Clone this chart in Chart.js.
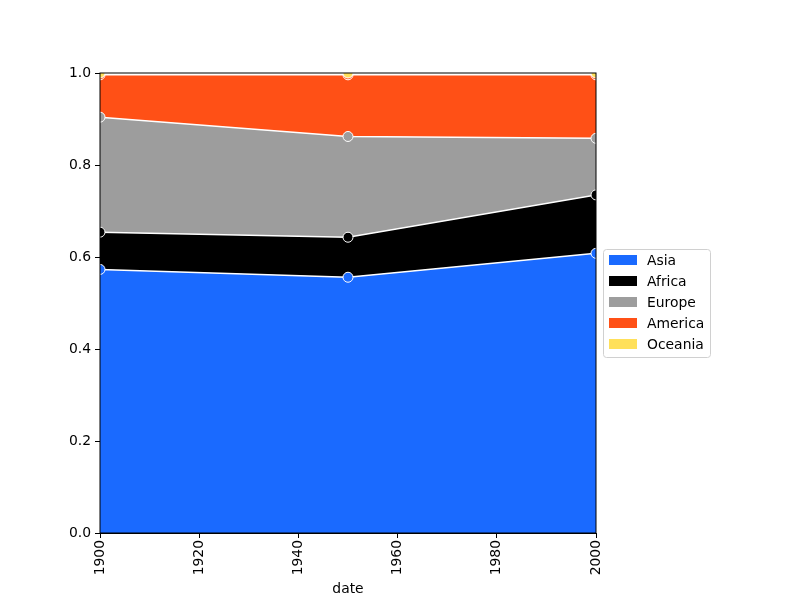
<!DOCTYPE html>
<html>
<head>
<meta charset="utf-8">
<script src="https://cdn.jsdelivr.net/npm/chart.js@4"></script>
<style>
  html, body { margin: 0; padding: 0; background: #fff; }
  #wrap { width: 800px; height: 600px; }
</style>
</head>
<body>
<div id="wrap"><canvas id="areaChart" width="800" height="600"></canvas></div>
<script>
// ================= Data =================
const years = [1900, 1950, 2000];
const regions = ["Asia", "Africa", "Europe", "America", "Oceania"];
const asia = [0.573, 0.556, 0.608];
const africa = [0.081, 0.087, 0.127];
const europe = [0.250, 0.219, 0.123];
const america = [0.092, 0.134, 0.138];
const oceania = [0.004, 0.004, 0.004];
const xTicks = [1900, 1920, 1940, 1960, 1980, 2000];
const yTicks = [0, 0.2, 0.4, 0.6, 0.8, 1.0];

const colors = ["#1a6aff", "#000000", "#9d9d9d", "#ff5016", "#ffe05a"];
const series = [asia, africa, europe, america, oceania];
const FONT = "DejaVu Sans";

// ================= Plugins =================
// chart.js draws dataset 0 last; redraw the top layer so it sits above, like the original
const topLayer = {
    id: "topLayer",
    afterDatasetsDraw(chart) {
        const a = chart.chartArea, ctx = chart.ctx;
        const meta = chart.getDatasetMeta(chart.data.datasets.length - 1);
        ctx.save();
        ctx.beginPath();
        ctx.rect(a.left, a.top, a.right - a.left, a.bottom - a.top);
        ctx.clip();
        meta.dataset.draw(ctx, a);
        meta.data.forEach(pt => pt.draw(ctx, a));
        ctx.restore();
    }
};

// axes frame on all four sides
const framePlugin = {
    id: "frame",
    afterDraw(chart) {
        const a = chart.chartArea, ctx = chart.ctx;
        ctx.save();
        ctx.strokeStyle = "#000";
        ctx.lineWidth = 1;
        ctx.strokeRect(a.left, a.top, a.right - a.left, a.bottom - a.top);
        ctx.restore();
    }
};

// boxed legend to the right of the plot
const boxLegend = {
    id: "boxLegend",
    afterDraw(chart) {
        const ctx = chart.ctx;
        const x = 603, y = 249, w = 107, h = 108;
        ctx.save();
        ctx.fillStyle = "rgba(255,255,255,0.8)";
        ctx.strokeStyle = "#d0d0d0";
        ctx.lineWidth = 1;
        ctx.beginPath();
        ctx.roundRect(x + 0.5, y + 0.5, w, h, 3);
        ctx.fill();
        ctx.stroke();
        ctx.font = "13.9px '" + FONT + "'";
        ctx.textBaseline = "middle";
        chart.data.datasets.forEach((ds, i) => {
            const cy = y + 11 + i * 21;
            ctx.fillStyle = ds.backgroundColor;
            ctx.fillRect(x + 6, cy - 5, 28, 10);
            ctx.fillStyle = "#000";
            ctx.fillText(ds.label, x + 44, cy + 1);
        });
        ctx.restore();
    }
};

// ================= Chart =================
const ctx = document.getElementById("areaChart").getContext("2d");
new Chart(ctx, {
    type: "line",
    data: {
        datasets: regions.map((name, i) => ({
            label: name,
            data: years.map((yr, j) => ({ x: yr, y: series[i][j] })),
            backgroundColor: colors[i],
            borderColor: "#ffffff",
            borderWidth: 1.5,
            pointRadius: 5,
            pointBackgroundColor: colors[i],
            pointBorderColor: "#ffffff",
            pointBorderWidth: 1,
            fill: i === 0 ? "origin" : "-1",
            tension: 0,
            clip: 0
        }))
    },
    options: {
        responsive: false,
        animation: false,
        events: [],
        layout: { padding: { top: 73, right: 204, left: 0, bottom: 0 } },
        plugins: {
            legend: { display: false },
            tooltip: { enabled: false }
        },
        scales: {
            x: {
                type: "linear",
                min: 1900,
                max: 2000,
                afterBuildTicks: (scale) => { scale.ticks = xTicks.map(v => ({ value: v })); },
                afterFit: (scale) => { scale.height = 67; },
                ticks: {
                    minRotation: 90,
                    maxRotation: 90,
                    padding: 2,
                    color: "#000",
                    font: { family: FONT, size: 13.9 },
                    callback: (v) => String(v)
                },
                grid: { drawOnChartArea: false, drawTicks: true, tickLength: 5, color: "#000" },
                border: { display: true, color: "#000" },
                title: {
                    display: true,
                    text: "date",
                    color: "#000",
                    padding: { top: 0, bottom: 2 },
                    font: { family: FONT, size: 13.9 }
                }
            },
            y: {
                stacked: true,
                min: 0,
                max: 1,
                afterBuildTicks: (scale) => { scale.ticks = yTicks.map(v => ({ value: v })); },
                afterFit: (scale) => { scale.width = 100; },
                ticks: {
                    padding: 4,
                    color: "#000",
                    font: { family: FONT, size: 13.9 },
                    callback: (v) => Number(v).toFixed(1)
                },
                grid: { drawOnChartArea: false, drawTicks: true, tickLength: 5, color: "#000" },
                border: { display: true, color: "#000" }
            }
        }
    },
    plugins: [topLayer, framePlugin, boxLegend]
});
</script>
</body>
</html>
